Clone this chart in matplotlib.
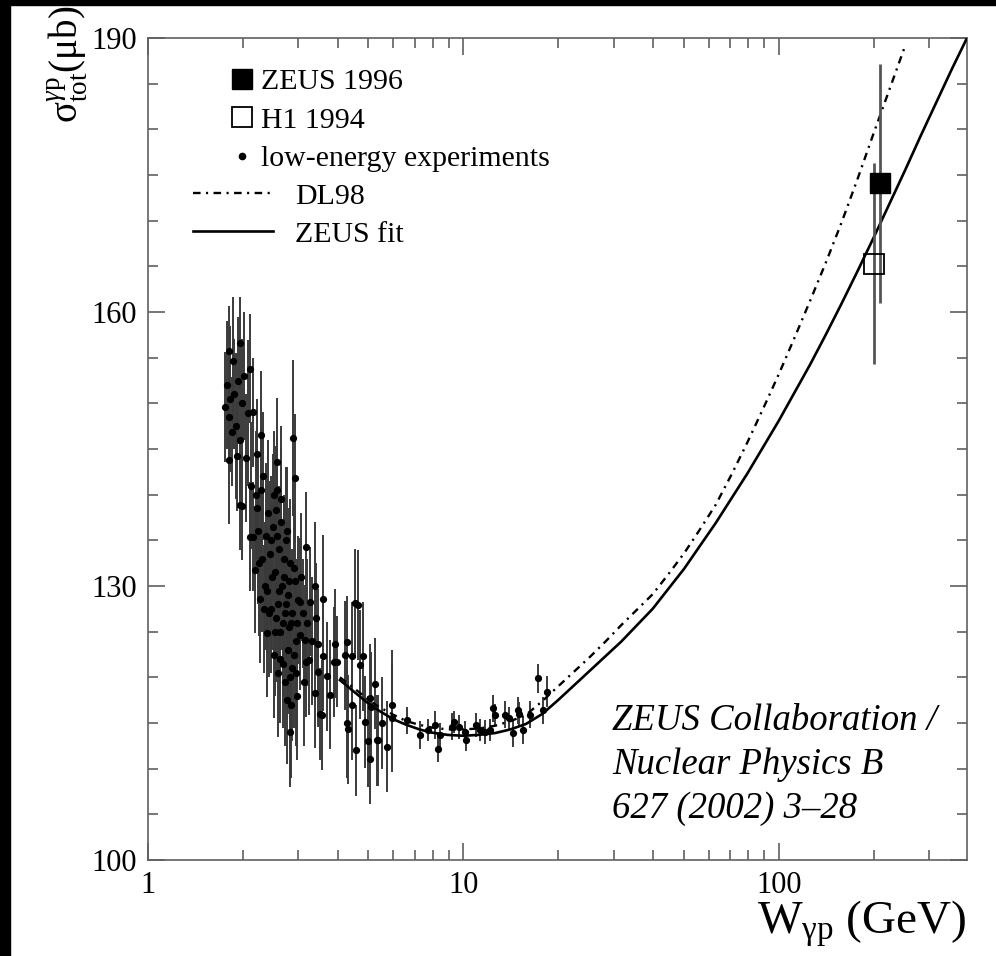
import matplotlib.pyplot as plt
from matplotlib.lines import Line2D
from matplotlib.patches import Rectangle
from matplotlib.ticker import FixedLocator, NullFormatter, MultipleLocator

plt.rcParams['font.family'] = 'Liberation Serif'
plt.rcParams['mathtext.fontset'] = 'custom'
plt.rcParams['mathtext.rm'] = 'Liberation Serif'
plt.rcParams['mathtext.it'] = 'Liberation Serif:italic'

# low-energy experiments (W in GeV, sigma in microbarn)
low_w = [1.76, 1.78, 1.80, 1.80, 1.80, 1.82, 1.84, 1.86, 1.88, 1.90, 1.91, 1.93, 1.96, 1.96, 1.98, 1.96, 1.99,
         2.02, 2.05, 2.08, 2.10, 2.10, 2.12, 2.15, 2.15, 2.18, 2.20, 2.21, 2.24, 2.26, 2.28, 2.30,
         2.32, 2.35, 2.38, 2.40, 2.42, 2.45, 2.47, 2.50, 2.52, 2.54, 2.56, 2.56, 2.58, 2.60,
         2.62, 2.64, 2.66, 2.68, 2.70, 2.72, 2.74, 2.76, 2.78, 2.80, 2.82, 2.84, 2.86, 2.89, 2.90, 2.92, 2.94, 2.96, 2.98,
         3.03, 3.03, 3.10, 3.14, 3.18, 3.18, 3.25, 3.26, 3.38, 3.38, 3.46, 3.46, 3.51, 3.55, 3.60, 3.60, 3.69, 3.77, 3.88, 3.91, 3.96,
         4.21, 4.27, 4.27, 4.30, 4.42, 4.42, 4.53, 4.58, 4.64, 4.70, 4.82, 4.87, 4.99, 5.05, 5.05, 5.10, 5.24, 5.31, 5.37, 5.50, 5.71, 5.92, 5.92,
         6.61, 7.29, 7.74, 8.13, 8.33, 8.44, 9.18, 9.35, 9.65, 10.1, 10.2, 11.0, 11.3, 11.7, 12.1, 12.4, 12.6, 13.5, 13.9, 14.4, 14.9, 15.0, 15.5, 16.3, 17.3, 17.9, 18.4,
         # dense cluster around 2.2 - 3.4 GeV
         2.22, 2.25, 2.29, 2.33, 2.36, 2.39, 2.43, 2.46, 2.49, 2.51, 2.53, 2.55, 2.57, 2.59, 2.61, 2.63, 2.65, 2.67, 2.69,
         2.71, 2.73, 2.75, 2.77, 2.79, 2.81, 2.83, 2.85, 2.87, 2.91, 2.93, 2.95, 2.97, 3.06, 3.12, 3.20, 3.30, 3.42]
low_sig = [149.6, 152.0, 155.7, 148.5, 143.8, 150.5, 146.9, 154.6, 151.0, 147.5, 144.2, 152.5, 156.6, 146.0, 138.8, 138.9, 150.0,
           153.0, 144.0, 148.9, 153.8, 135.4, 141.0, 149.0, 135.4, 131.8, 140.0, 144.5, 136.0, 128.6, 146.5, 133.0,
           142.0, 130.0, 124.8, 138.0, 127.0, 135.0, 131.0, 140.0, 125.0, 138.3, 143.6, 140.5, 128.0, 134.0,
           122.0, 137.0, 130.0, 126.0, 133.0, 119.5, 128.0, 136.0, 123.0, 130.5, 114.0, 126.0, 121.0, 146.2, 132.0, 141.8, 124.0, 118.0, 128.5,
           128.3, 124.6, 127.0, 124.1, 134.3, 121.7, 121.9, 128.3, 130.0, 118.3, 123.7, 120.6, 116.0, 115.9, 128.6, 122.3, 120.1, 118.1, 121.7, 123.7, 121.7,
           122.4, 123.9, 115.0, 114.3, 122.3, 117.0, 128.1, 112.0, 127.9, 121.4, 122.3, 115.1, 113.0, 111.1, 117.7, 116.8, 119.3, 113.1, 113.1, 115.0, 112.4, 117.0, 115.6,
           115.3, 113.7, 114.2, 114.8, 112.2, 113.7, 114.6, 115.1, 114.6, 114.0, 113.1, 114.8, 114.2, 114.0, 114.2, 116.6, 115.9, 115.9, 115.5, 113.9, 116.4, 116.0, 114.2, 115.9, 119.9, 116.4, 118.4,
           138.5, 132.5, 140.5, 127.5, 135.5, 129.5, 133.5, 127.5, 136.5, 122.5, 131.5, 126.5, 135.5, 120.5, 129.5, 125.0, 139.5, 121.5, 131.0,
           127.0, 135.0, 117.5, 129.0, 125.5, 120.0, 132.5, 117.0, 127.0, 122.5, 130.5, 120.5, 126.0, 131.0, 119.5, 126.0, 124.0, 126.5]
low_err = [6, 7, 5, 6, 7, 8, 6, 7, 6, 8, 6, 7, 5, 6, 6, 5, 7,
           7, 7, 8, 6, 6, 7, 6, 6, 7, 7, 6, 8, 7, 7, 8,
           7, 7, 7, 8, 7, 7, 8, 7, 7, 7, 7, 6, 8, 7,
           7, 8, 7, 8, 7, 7, 8, 7, 7, 8, 6, 7, 8, 8.5, 7, 7, 7, 7, 7,
           7, 6, 6, 6, 6, 6, 6, 6, 7, 6, 6, 6, 5, 6, 7, 6, 6, 6, 6, 6, 5,
           6, 5, 6, 6, 6, 6, 6, 5, 6, 6, 6, 5, 5, 5, 6, 6, 5, 5, 5, 5, 5, 6, 6,
           1.5, 1.5, 1.2, 1.5, 1.5, 1.3, 1.5, 1.2, 1.3, 1.2, 1.2, 1.3, 1.2, 1.3, 1.2, 1.5, 1.2, 1.5, 1.3, 1.5, 1.5, 1.3, 1.5, 1.5, 1.6, 1.5, 1.7,
           7, 8, 7, 7, 8, 7, 8, 7, 8, 7, 8, 7, 8, 7, 8, 7, 8, 7, 8,
           7, 8, 7, 8, 7, 8, 7, 8, 7, 8, 7, 8, 7, 7, 7, 7, 7, 6]

zeus_w, zeus_sig, zeus_err = [209], [174.1], [13.1]
h1_w, h1_sig, h1_err = [200], [165.3], [11.0]

# ZEUS fit and DL98 curves
fit_w = [4.06, 4.47, 4.93, 5.37, 6.0, 6.6, 7.25, 7.94, 8.9, 10.0, 11.2, 12.6, 14.1, 15.8, 17.8,
         19.95, 22.39, 25.12, 28.18, 31.62, 35.48, 39.81, 44.67, 50.12, 56.23, 63.10, 70.79, 79.43, 89.13,
         100.0, 112.2, 125.9, 141.3, 158.5, 177.8, 199.5, 223.9, 251.2, 281.8, 316.2, 354.8, 395.0]
fit_sig = [119.7, 118.5, 117.3, 116.4, 115.4, 114.8, 114.3, 113.95, 113.7, 113.6, 113.7, 113.9, 114.3, 114.9, 116.0,
           117.5, 119.1, 120.7, 122.3, 123.9, 125.7, 127.5, 129.7, 131.9, 134.4, 136.9, 139.6, 142.3, 145.2,
           148.1, 151.2, 154.3, 157.6, 161.0, 164.5, 168.1, 171.8, 175.5, 179.3, 183.0, 186.7, 190.0]
dl_w = [4.06, 4.47, 4.93, 5.37, 6.0, 6.6, 7.25, 7.94, 8.9, 10.0, 11.2, 12.6, 14.1, 15.8, 17.8,
        19.95, 22.39, 25.12, 28.18, 31.62, 35.48, 39.81, 44.67, 50.12, 56.23, 63.10, 70.79, 79.43, 89.13,
        100.0, 112.2, 125.9, 141.3, 158.5, 177.8, 199.5, 223.9, 251.2]
dl_sig = [120.0, 118.9, 117.7, 116.8, 115.9, 115.2, 114.8, 114.5, 114.3, 114.3, 114.4, 114.7, 115.2, 115.9, 117.4,
          119.0, 120.6, 122.2, 123.9, 125.7, 127.4, 129.1, 131.3, 133.6, 136.2, 138.9, 142.2, 145.7, 149.4,
          153.2, 157.2, 161.3, 165.5, 169.9, 174.6, 179.5, 184.3, 189.1]

W_PX, H_PX = 996, 956
fig = plt.figure(figsize=(W_PX / 100, H_PX / 100), dpi=100)
ax = fig.add_axes([148 / W_PX, 1 - 860 / H_PX, 819 / W_PX, 822 / H_PX])

dl_style = (0, (3.2, 2.3, 0.9, 2.3))

ax.errorbar(low_w, low_sig, yerr=low_err, fmt='o', ms=4.2, color='black',
            ecolor='#3a3a3a', elinewidth=1.4, capsize=0, zorder=3)
ax.plot(fit_w, fit_sig, color='black', lw=1.9, zorder=4)
ax.plot(dl_w, dl_sig, color='black', lw=1.7, ls=dl_style, zorder=4)
ax.errorbar(h1_w, h1_sig, yerr=h1_err, fmt='s', ms=15, mfc='none', mec='black', mew=1.3,
            ecolor='#555555', elinewidth=2, capsize=0, zorder=5)
ax.errorbar(zeus_w, zeus_sig, yerr=zeus_err, fmt='s', ms=15, color='black',
            ecolor='#555555', elinewidth=2, capsize=0, zorder=5)

ax.set_xscale('log')
ax.set_xlim(1, 395)
ax.set_ylim(100, 190)
ax.xaxis.set_major_locator(FixedLocator([1, 10, 100]))
ax.xaxis.set_minor_locator(FixedLocator([m * d for d in (1, 10, 100) for m in range(2, 10)]))
ax.set_xticklabels(['1', '10', '100'])
ax.xaxis.set_minor_formatter(NullFormatter())
ax.yaxis.set_major_locator(FixedLocator([100, 130, 160, 190]))
ax.yaxis.set_minor_locator(MultipleLocator(5))

ax.tick_params(which='both', direction='in', top=True, right=True, color='#606060', width=1.2)
ax.tick_params(which='major', length=12, labelsize=22, pad=8)
ax.tick_params(which='minor', length=7)
for sp in ax.spines.values():
    sp.set_color('#606060')
    sp.set_linewidth(1.2)

# legend, built in two parts like the original
LEG_FS = 21.5
h_marks = [Line2D([], [], marker='s', ms=14.5, color='black', ls='none'),
           Line2D([], [], marker='s', ms=14.5, mfc='none', mec='black', mew=1.3, ls='none'),
           Line2D([], [], marker='o', ms=4.5, color='black', ls='none')]
leg1 = ax.legend(h_marks, ['ZEUS 1996', 'H1 1994', 'low-energy experiments'],
                 loc='upper left', bbox_to_anchor=(0.102, 0.9628), frameon=False, fontsize=LEG_FS,
                 handlelength=0.7, handletextpad=0.3, labelspacing=0.38, borderpad=0, borderaxespad=0)
ax.add_artist(leg1)
h_lines = [Line2D([], [], color='black', lw=1.7, ls=dl_style),
           Line2D([], [], color='black', lw=1.9)]
ax.legend(h_lines, ['DL98', 'ZEUS fit'], loc='upper left', bbox_to_anchor=(0.055, 0.824),
          frameon=False, fontsize=LEG_FS, handlelength=2.68, handletextpad=0.74, labelspacing=0.38,
          borderpad=0, borderaxespad=0)

fig.text(612 / W_PX, 1 - 765 / H_PX, 'ZEUS Collaboration /\nNuclear Physics B\n627 (2002) 3\u201328',
         fontsize=26.5, style='italic', ha='left', va='center', linespacing=1.36)

fig.text(67 / W_PX, 1 - 6 / H_PX, r'$\mathrm{\sigma}^{\gamma\mathrm{p}}_{\mathrm{tot}}(\mathrm{\mu b})$',
         rotation=90, ha='center', va='top', fontsize=28)
fig.text(967 / W_PX, 1 - 934 / H_PX, r'$\mathrm{W}_{\mathrm{\gamma p}}$ (GeV)',
         ha='right', va='baseline', fontsize=34)

# black frame strips along the top and left edges
fig.add_artist(Rectangle((0, 1 - 5 / H_PX), 1, 5 / H_PX, transform=fig.transFigure, color='black'))
fig.add_artist(Rectangle((0, 0), 10 / W_PX, 1, transform=fig.transFigure, color='black'))

plt.savefig('out.png', dpi=100)
